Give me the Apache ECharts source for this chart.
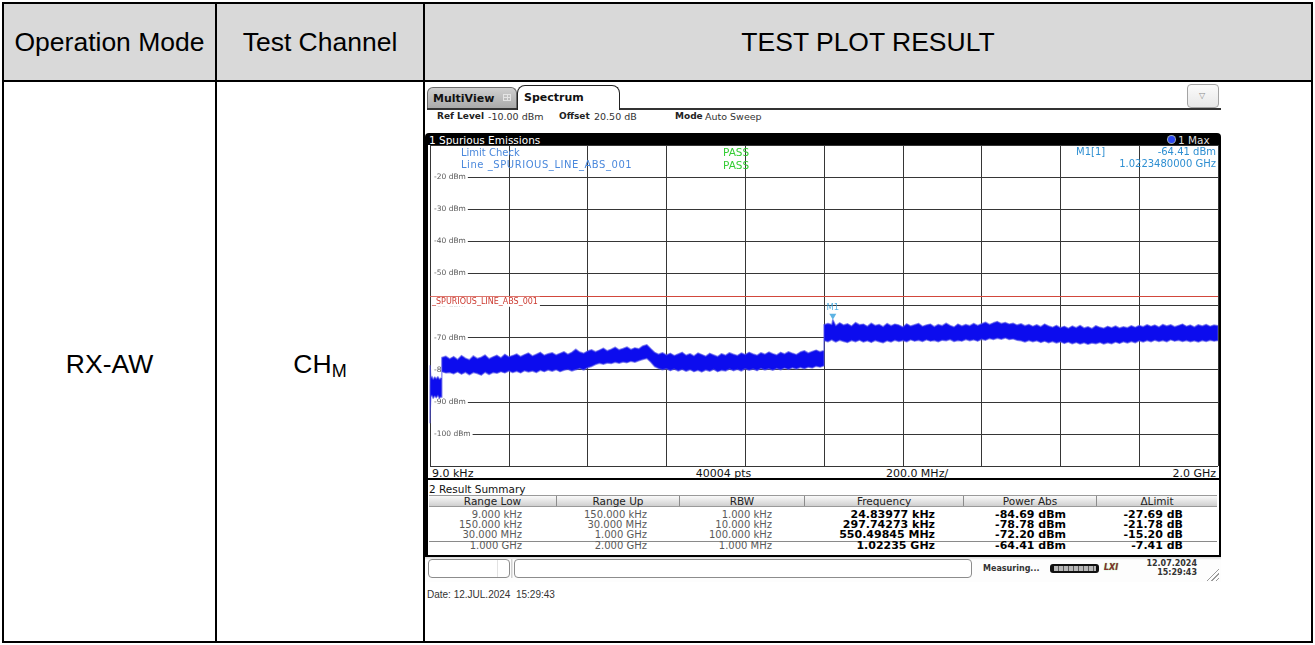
<!DOCTYPE html>
<html>
<head>
<meta charset="utf-8">
<title>Spurious Emissions RX-AW</title>
<script src="https://cdn.jsdelivr.net/npm/echarts@6.0.0/dist/echarts.min.js"></script>
<style>
  html, body { margin: 0; padding: 0; background: #fff; }
  body { width: 1315px; height: 645px; position: relative; overflow: hidden;
         font-family: 'Liberation Sans', Arial, sans-serif; }
  .a { position: absolute; }
  .ln { position: absolute; background: #000; }
  .cell { position: absolute; display: flex; align-items: center; justify-content: center;
          font-size: 26.5px; color: #000; white-space: nowrap; }
  .t { position: absolute; white-space: nowrap; line-height: 1; font-family: 'DejaVu Sans', sans-serif; }
  .b { font-weight: bold; }
  .hc { position: absolute; top: 0; height: 100%; display: flex; align-items: center; justify-content: center;
        font-family: 'DejaVu Sans', sans-serif; font-size: 10.5px; color: #222;
        border-right: 1px solid #8c8c8c; box-sizing: border-box; }
  .rc { position: absolute; text-align: right; white-space: nowrap; line-height: 1; font-family: 'DejaVu Sans', sans-serif; }
  .rg { font-size: 10px; color: #5a5a5a; }
  .rb { font-size: 11px; color: #000; font-weight: bold; }
</style>
</head>
<body>

<!-- report table -->
<div class="a" style="left:4px;top:4px;width:1307px;height:76px;background:#d9d9d9"></div>
<div class="ln" style="left:2px;top:2px;width:1311px;height:2px"></div>
<div class="ln" style="left:2px;top:80px;width:1311px;height:2px"></div>
<div class="ln" style="left:2px;top:641px;width:1311px;height:2px"></div>
<div class="ln" style="left:2px;top:2px;width:2px;height:641px"></div>
<div class="ln" style="left:1311px;top:2px;width:2px;height:641px"></div>
<div class="ln" style="left:215px;top:2px;width:2px;height:641px"></div>
<div class="ln" style="left:423px;top:2px;width:2px;height:641px"></div>

<div class="cell" style="left:4px;top:4px;width:211px;height:76px">Operation Mode</div>
<div class="cell" style="left:217px;top:4px;width:206px;height:76px">Test Channel</div>
<div class="cell" style="left:425px;top:4px;width:886px;height:76px">TEST PLOT RESULT</div>
<div class="cell" style="left:4px;top:86px;width:211px;height:557px">RX-AW</div>
<div class="cell" style="left:217px;top:86px;width:206px;height:557px"><span>CH</span><span style="font-size:18px;position:relative;top:7px">M</span></div>

<!-- analyzer window: tab strip -->
<div class="a" style="left:427px;top:87px;width:90px;height:22px;background:linear-gradient(#cfcfcf,#a8a8a8);border:1px solid #6a6a6a;border-bottom:none;border-radius:6px 6px 0 0;box-sizing:border-box"></div>
<div class="t b" style="left:433px;top:92.5px;font-size:11px;color:#111">MultiView</div>
<div class="a" style="left:503px;top:94px;width:8px;height:7px;border:1px solid #e4e4e4;box-sizing:border-box;background:linear-gradient(90deg,transparent 3px,#e4e4e4 3px,#e4e4e4 4px,transparent 4px),linear-gradient(transparent 2px,#e4e4e4 2px,#e4e4e4 3px,transparent 3px)"></div>
<div class="a" style="left:427px;top:108px;width:794px;height:1.5px;background:#333"></div>
<div class="a" style="left:517px;top:85px;width:103px;height:25px;background:#fff;border:1px solid #222;border-bottom:none;border-radius:8px 8px 0 0;box-sizing:border-box"></div>
<div class="t b" style="left:524px;top:91.7px;font-size:11px;color:#111">Spectrum</div>
<div class="a" style="left:1187px;top:84px;width:32px;height:24px;border:1px solid #a4a4a4;border-radius:4px;box-sizing:border-box;background:linear-gradient(#fbfbfb,#e8e8e8)"></div>
<div class="t" style="left:1199px;top:92px;font-size:8px;color:#8a8a8a">&#9661;</div>

<!-- analyzer window: settings line -->
<div class="t b" style="left:437px;top:112px;font-size:9px;color:#222">Ref Level</div>
<div class="t" style="left:488px;top:111.7px;font-size:9.5px;color:#333">-10.00 dBm</div>
<div class="t b" style="left:559px;top:112px;font-size:9px;color:#222">Offset</div>
<div class="t" style="left:594px;top:111.7px;font-size:9.5px;color:#333">20.50 dB</div>
<div class="t b" style="left:675px;top:112px;font-size:9px;color:#222">Mode</div>
<div class="t" style="left:705px;top:111.7px;font-size:9.5px;color:#333">Auto Sweep</div>

<!-- analyzer window: black frame with title bar -->
<div class="a" style="left:425px;top:133px;width:796px;height:424px;background:#000;border-radius:4px 4px 0 0"></div>
<div class="t" style="left:429px;top:134.5px;font-size:10.5px;color:#fff">1 Spurious Emissions</div>
<div class="a" style="left:1168px;top:136px;width:7px;height:7px;border-radius:50%;background:#2a46f0;box-shadow:0 0 0 1px #9ab"></div>
<div class="t" style="left:1178px;top:134.5px;font-size:10.5px;color:#ddd">1 Max</div>

<!-- spectrum plot -->
<div id="plot" class="a" style="left:428px;top:145px;width:791px;height:322px;background:#fff"></div>

<div class="t" style="left:461px;top:147.5px;font-size:10px;color:#4a88dc;z-index:5">Limit Check</div>
<div class="t" style="left:461px;top:159.9px;font-size:10px;letter-spacing:0.55px;color:#4a88dc;z-index:5">Line _SPURIOUS_LINE_ABS_001</div>
<div class="t" style="left:723px;top:147.3px;font-size:10.5px;color:#33cc33;z-index:5">PASS</div>
<div class="t" style="left:723px;top:159.7px;font-size:10.5px;color:#33cc33;z-index:5">PASS</div>
<div class="t" style="left:1076px;top:146.9px;font-size:10px;color:#2e8fd2;z-index:5">M1[1]</div>
<div class="t" id="mkLevel" style="right:99px;top:146.9px;font-size:10px;color:#2e8fd2;z-index:5"></div>
<div class="t" id="mkFreq" style="right:99px;top:158.5px;font-size:10px;color:#2e8fd2;z-index:5"></div>

<!-- frequency annotation bar -->
<div class="a" style="left:428px;top:467px;width:791px;height:11px;background:#fff"></div>
<div class="t" style="left:432px;top:467.6px;font-size:11px;color:#111">9.0 kHz</div>
<div class="t" style="left:723.5px;top:467.6px;font-size:11px;color:#111;transform:translateX(-50%)">40004 pts</div>
<div class="t" style="left:917px;top:467.6px;font-size:11px;color:#111;transform:translateX(-50%)">200.0 MHz/</div>
<div class="t" style="right:99px;top:467.6px;font-size:11px;color:#111">2.0 GHz</div>

<!-- result summary -->
<div class="a" style="left:428px;top:480px;width:791px;height:75px;background:#fff"></div>
<div class="t" style="left:429px;top:484.4px;font-size:10.5px;color:#111">2 Result Summary</div>
<div class="a" id="sumHead" style="left:429px;top:494.5px;width:788px;height:12px;background:linear-gradient(#fafafa,#cfcfcf);border-top:1px solid #9a9a9a;border-bottom:1px solid #9a9a9a;box-sizing:border-box"></div>
<div class="a" style="left:429px;top:541px;width:788px;height:1px;background:#8a8a8a"></div>
<div id="sumRows"></div>

<!-- status bar -->
<div class="a" style="left:425px;top:557px;width:796px;height:25px;background:linear-gradient(#d8d8d8,#fdfdfd 3px,#fdfdfd)"></div>
<div class="a" style="left:427.5px;top:559px;width:82px;height:19px;border:1px solid #8c8c8c;border-radius:4px;box-sizing:border-box;background:#fff"></div>
<div class="a" style="left:496.5px;top:560px;width:1px;height:17px;background:#e2e2e2"></div>
<div class="a" style="left:510.5px;top:559px;width:2px;height:19px;background:linear-gradient(90deg,#c8c8c8,#f0f0f0)"></div>
<div class="a" style="left:514px;top:559px;width:458px;height:19px;border:1px solid #8c8c8c;border-radius:4px;box-sizing:border-box;background:#fff"></div>
<div class="t b" style="left:983px;top:565px;font-size:8px;color:#333">Measuring...</div>
<div class="a" style="left:1050px;top:564px;width:49px;height:9px;border-radius:3px;background:#111"></div>
<div class="a" style="left:1054px;top:566px;width:42px;height:5px;background:repeating-linear-gradient(90deg,#b8b8b8 0,#b8b8b8 4px,#5a5a5a 4px,#5a5a5a 5px)"></div>
<div class="t b" style="left:1104px;top:564px;font-size:8px;font-style:italic;color:#8a2e2e;text-shadow:0 0 1px #5c5">LXI</div>
<div class="t b" style="right:118px;top:559.9px;font-size:8px;color:#333">12.07.2024</div>
<div class="t b" style="right:118px;top:569.2px;font-size:8px;color:#333">15:29:43</div>
<div class="a" style="left:1205px;top:567px;width:14px;height:14px;background:repeating-linear-gradient(135deg,transparent 0,transparent 2px,#9a9a9a 2px,#9a9a9a 3px);clip-path:polygon(100% 0,100% 100%,0 100%)"></div>

<div class="a" style="left:427px;top:590.4px;font-size:10px;line-height:1;color:#333;white-space:pre">Date: 12.JUL.2024  15:29:43</div>

<script>
// ---- sweep settings ----
const freqStartMHz = 0;          // 9 kHz start, drawn from the axis origin
const freqStopMHz = 2000;
const freqDivMHz = 200;
const refTopDbm = -10;
const refBottomDbm = -110;
const levelDivDb = 10;
const yTickValues = [-20, -30, -40, -50, -60, -70, -80, -90, -100];

// ---- limit line ----
const limitName = '_SPURIOUS_LINE_ABS_001';
const limitDbm = -57;

// ---- marker M1 ----
const markerName = 'M1';
const markerFreqGHz = 1.022348;
const markerDbm = -64.41;

// ---- max-hold trace: [MHz, upper envelope dBm, lower envelope dBm] ----
const lowBandTrace = [
  [0.009, -92.0, -96.5], [0.025, -84.69, -95.0], [0.15, -88.0, -95.5], [0.30, -78.78, -93.0],
  [2, -82.6, -88.4], [5, -82.1, -88.0], [8, -83.0, -88.9], [12, -82.3, -88.2],
  [16, -82.8, -88.7], [20, -82.2, -88.0], [24, -83.0, -88.9], [28, -82.6, -88.4], [30, -82.5, -88.6]
];
const midBandTrace = [
  [30, -76.2, -80.6], [40, -75.8, -81.0], [50, -76.6, -80.9], [60, -75.9, -81.3], [70, -76.8, -80.7],
  [80, -75.6, -81.4], [90, -76.4, -80.8], [100, -76.9, -81.6], [110, -75.7, -80.9], [120, -76.5, -81.2],
  [130, -76.1, -81.7], [140, -75.4, -80.8], [150, -76.6, -81.5], [160, -76.0, -80.9], [170, -75.5, -81.1],
  [180, -76.3, -80.6], [190, -75.2, -81.0], [200, -76.0, -80.4], [210, -75.6, -80.9], [220, -75.1, -80.5],
  [230, -75.9, -81.0], [240, -75.3, -80.3], [250, -74.8, -80.7], [260, -75.7, -80.4], [270, -75.2, -80.9],
  [280, -74.6, -80.2], [290, -75.5, -80.6], [300, -75.0, -80.1], [310, -74.7, -80.5], [320, -75.4, -80.0],
  [330, -74.9, -80.6], [340, -74.4, -80.2], [350, -75.2, -79.9], [360, -74.6, -80.4], [370, -73.6, -80.0],
  [380, -74.5, -79.6], [390, -74.9, -80.1], [400, -74.2, -79.4], [410, -73.8, -79.0], [420, -74.4, -78.4],
  [430, -73.9, -78.0], [440, -73.3, -78.3], [450, -74.1, -77.9], [460, -73.6, -78.1], [470, -73.0, -77.7],
  [480, -73.8, -78.0], [490, -73.4, -77.6], [500, -72.9, -77.8], [510, -73.7, -77.4], [520, -73.2, -77.7],
  [530, -73.5, -77.2], [540, -72.6, -76.8], [550.5, -72.20, -76.5], [560, -73.4, -77.6], [570, -74.6, -79.0],
  [580, -75.2, -79.6], [590, -74.7, -80.0], [600, -75.4, -79.7], [610, -74.9, -80.3], [620, -75.6, -79.8],
  [630, -75.1, -80.4], [640, -74.6, -79.9], [650, -75.5, -80.5], [660, -75.0, -80.0], [670, -75.7, -80.6],
  [680, -74.8, -80.2], [690, -75.3, -80.7], [700, -75.8, -80.1], [710, -74.9, -80.5], [720, -75.4, -79.9],
  [730, -75.9, -80.6], [740, -75.0, -80.2], [750, -75.5, -80.4], [760, -74.7, -79.8], [770, -75.2, -80.3],
  [780, -75.6, -79.9], [790, -74.8, -80.4], [800, -75.3, -79.7], [810, -74.6, -80.2], [820, -75.1, -79.8],
  [830, -75.5, -80.3], [840, -74.7, -79.6], [850, -75.2, -80.1], [860, -74.5, -79.7], [870, -75.0, -80.2],
  [880, -75.4, -79.6], [890, -74.6, -80.0], [900, -75.1, -79.5], [910, -74.4, -79.9], [920, -74.9, -79.4],
  [930, -75.3, -79.8], [940, -74.5, -79.3], [950, -74.1, -79.7], [960, -74.8, -79.2], [970, -74.3, -79.5],
  [980, -73.9, -78.9], [990, -74.4, -79.2], [1000, -74.0, -78.8]
];
const highBandTrace = [
  [1000, -66.0, -70.9], [1010, -65.6, -71.3], [1020, -65.9, -70.7], [1022.348, -64.41, -70.9], [1030, -66.3, -71.4],
  [1040, -65.4, -70.8], [1050, -66.1, -71.2], [1060, -65.7, -71.5], [1070, -66.4, -70.9], [1080, -65.3, -71.3],
  [1090, -66.0, -70.8], [1100, -65.8, -71.4], [1110, -66.5, -71.0], [1120, -65.5, -71.5], [1130, -66.2, -70.9],
  [1140, -65.9, -71.3], [1150, -66.6, -71.6], [1160, -65.6, -71.0], [1170, -66.3, -71.4], [1180, -65.8, -70.8],
  [1190, -66.1, -71.2], [1200, -66.7, -70.9], [1210, -65.7, -71.3], [1220, -66.4, -70.7], [1230, -66.0, -71.1],
  [1240, -65.6, -70.8], [1250, -66.5, -71.2], [1260, -66.1, -70.7], [1270, -65.8, -71.1], [1280, -66.6, -70.9],
  [1290, -65.9, -71.3], [1300, -66.3, -70.8], [1310, -65.5, -71.0], [1320, -66.2, -70.6], [1330, -66.7, -71.2],
  [1340, -65.8, -70.9], [1350, -66.4, -71.1], [1360, -65.9, -70.6], [1370, -66.3, -71.0], [1380, -65.6, -70.7],
  [1390, -66.2, -71.1], [1400, -65.7, -70.5], [1410, -65.2, -70.8], [1420, -65.9, -70.3], [1430, -65.4, -70.6],
  [1440, -65.0, -70.2], [1450, -65.6, -70.5], [1460, -65.3, -70.1], [1470, -65.8, -70.6], [1480, -65.5, -70.4],
  [1490, -66.1, -70.8], [1500, -65.7, -71.0], [1510, -66.3, -71.4], [1520, -65.9, -70.9], [1530, -66.5, -71.3],
  [1540, -66.0, -71.0], [1550, -66.6, -71.5], [1560, -65.8, -71.1], [1570, -66.4, -71.6], [1580, -66.8, -71.2],
  [1590, -66.2, -71.7], [1600, -66.9, -71.3], [1610, -66.5, -71.8], [1620, -67.1, -71.4], [1630, -66.4, -71.9],
  [1640, -66.9, -71.5], [1650, -66.2, -72.0], [1660, -67.0, -71.6], [1670, -66.6, -72.1], [1680, -67.2, -71.7],
  [1690, -66.3, -71.9], [1700, -66.8, -71.5], [1710, -67.1, -72.0], [1720, -66.5, -71.6], [1730, -66.9, -71.9],
  [1740, -66.4, -71.4], [1750, -67.0, -71.8], [1760, -66.6, -71.3], [1770, -66.9, -71.7], [1780, -66.3, -71.2],
  [1790, -66.8, -71.6], [1800, -66.2, -71.0], [1810, -66.6, -71.4], [1820, -66.0, -70.9], [1830, -66.5, -71.3],
  [1840, -66.1, -70.8], [1850, -66.7, -71.2], [1860, -65.9, -70.9], [1870, -66.4, -71.3], [1880, -66.0, -70.7],
  [1890, -66.6, -71.1], [1900, -66.2, -70.8], [1910, -65.8, -71.2], [1920, -66.5, -70.9], [1930, -66.1, -71.3],
  [1940, -66.7, -71.0], [1950, -66.0, -71.4], [1960, -66.4, -70.9], [1970, -65.9, -71.2], [1980, -66.5, -70.8],
  [1990, -66.1, -71.1], [2000, -66.3, -70.9]
];

// ---- result summary table ----
const sumColumns = ['Range Low', 'Range Up', 'RBW', 'Frequency', 'Power Abs', '\u0394Limit'];
const rangeLow = ['9.000 kHz', '150.000 kHz', '30.000 MHz', '1.000 GHz'];
const rangeUp = ['150.000 kHz', '30.000 MHz', '1.000 GHz', '2.000 GHz'];
const rbw = ['1.000 kHz', '10.000 kHz', '100.000 kHz', '1.000 MHz'];
const peakFreq = ['24.83977 kHz', '297.74273 kHz', '550.49845 MHz', '1.02235 GHz'];
const peakPowerDbm = [-84.69, -78.78, -72.20, -64.41];
const deltaLimitDb = [-27.69, -21.78, -15.20, -7.41];

// ---- summary table layout ----
const colEdges = [429, 557, 680, 805, 964, 1097, 1217];
const colRightPad = [35, 33, 33, 29, 31, 34];
const rowCenters = [514.6, 524.6, 534.4, 545.3];

(function buildSummary() {
  const head = document.getElementById('sumHead');
  sumColumns.forEach((name, i) => {
    const c = document.createElement('div');
    c.className = 'hc';
    c.style.left = (colEdges[i] - colEdges[0]) + 'px';
    c.style.width = (colEdges[i + 1] - colEdges[i]) + 'px';
    if (i === sumColumns.length - 1) c.style.borderRight = 'none';
    c.textContent = name;
    head.appendChild(c);
  });
  const host = document.getElementById('sumRows');
  const cols = [
    rangeLow, rangeUp, rbw, peakFreq,
    peakPowerDbm.map(v => v.toFixed(2) + ' dBm'),
    deltaLimitDb.map(v => v.toFixed(2) + ' dB')
  ];
  cols.forEach((vals, ci) => {
    vals.forEach((txt, ri) => {
      const d = document.createElement('div');
      const bold = ci >= 3;
      d.className = 'rc ' + (bold ? 'rb' : 'rg');
      d.style.right = (1315 - (colEdges[ci + 1] - colRightPad[ci])) + 'px';
      d.style.top = (rowCenters[ri] - (bold ? 5.3 : 4.8)) + 'px';
      d.textContent = txt;
      host.appendChild(d);
    });
  });
  document.getElementById('mkLevel').textContent = markerDbm.toFixed(2) + ' dBm';
  document.getElementById('mkFreq').textContent = markerFreqGHz.toFixed(10) + ' GHz';
})();

// ---- spectrum plot ----
const traceRows = lowBandTrace.concat(midBandTrace, highBandTrace);
const chart = echarts.init(document.getElementById('plot'), null, { renderer: 'canvas' });

chart.setOption({
  animation: false,
  textStyle: { fontFamily: 'DejaVu Sans' },
  grid: { left: 0, right: 1, top: 0, bottom: 1 },
  xAxis: {
    type: 'value', min: freqStartMHz, max: freqStopMHz, interval: freqDivMHz,
    axisLine: { show: false }, axisTick: { show: false }, axisLabel: { show: false },
    splitLine: { show: true, lineStyle: { color: '#363636', width: 1 } }
  },
  yAxis: {
    type: 'value', min: refBottomDbm, max: refTopDbm, interval: levelDivDb,
    axisLine: { show: false }, axisTick: { show: false },
    axisLabel: {
      inside: true, margin: 1, showMinLabel: false, showMaxLabel: false,
      formatter: v => (yTickValues.indexOf(v) >= 0 ? v + ' dBm' : ''),
      color: '#5a5a5a', fontSize: 7.5, backgroundColor: '#fff', padding: [1, 2, 1, 3]
    },
    splitLine: { show: true, lineStyle: { color: '#363636', width: 1 } }
  },
  series: [
    {
      name: 'Trace 1 Max Hold',
      type: 'custom',
      coordinateSystem: 'cartesian2d',
      clip: true,
      z: 3,
      data: [[traceRows[0][0], traceRows[0][1]]],
      renderItem: function (params, api) {
        const upper = traceRows.map(r => api.coord([r[0], r[1]]));
        const lower = traceRows.map(r => api.coord([r[0], r[2]])).reverse();
        return {
          type: 'polygon',
          shape: { points: upper.concat(lower) },
          style: { fill: '#0c0cee', stroke: 'rgba(80,80,232,0.6)', lineWidth: 1.5, lineJoin: 'round' }
        };
      }
    },
    {
      name: markerName,
      type: 'scatter',
      z: 5,
      data: [[markerFreqGHz * 1000, markerDbm]],
      symbol: 'path://M0,0L10,0L5,8Z',
      symbolSize: [7, 6],
      symbolOffset: [0, -3],
      itemStyle: { color: '#35a0dc' },
      label: { show: true, formatter: markerName, position: 'top', distance: 1,
               color: '#35a0dc', fontSize: 8.5 },
      markLine: {
        silent: true, symbol: ['none', 'none'],
        lineStyle: { color: '#d2483c', width: 1, type: 'solid' },
        label: { show: true, position: 'insideStartBottom', formatter: limitName, distance: 1,
                 color: '#cc3a30', fontSize: 8, backgroundColor: '#fff', padding: [1, 2, 1, 1] },
        data: [{ yAxis: limitDbm }]
      }
    }
  ]
});
</script>
</body>
</html>
